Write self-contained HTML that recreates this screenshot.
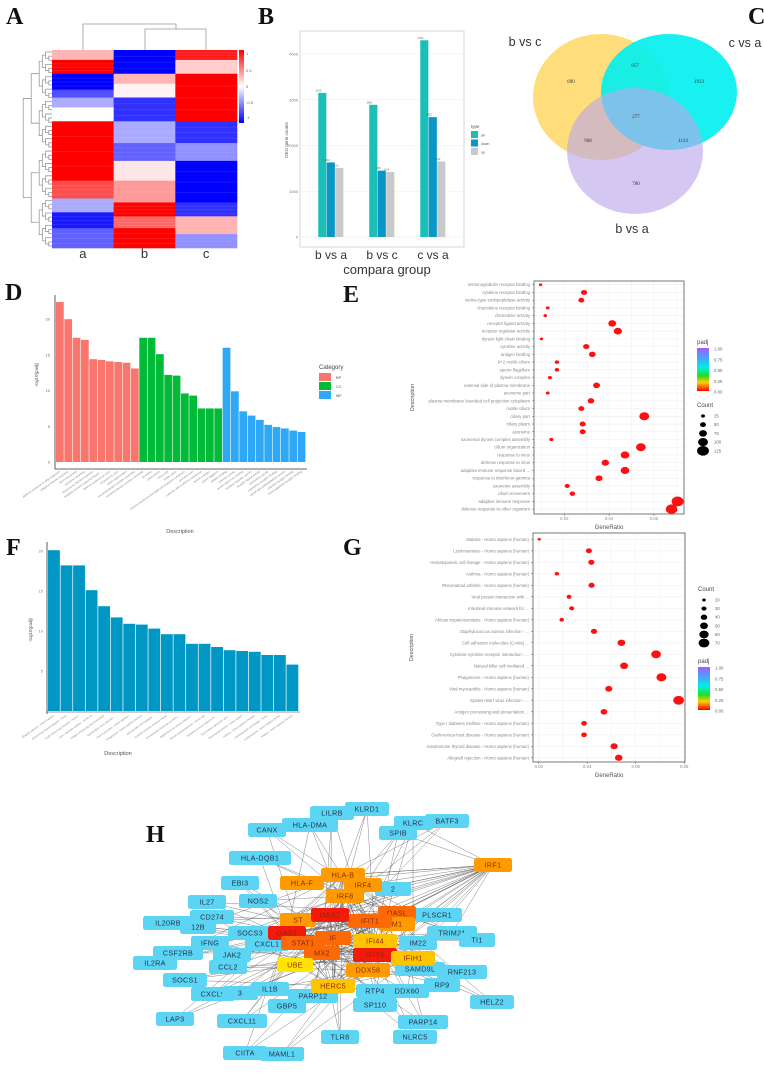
<!DOCTYPE html>
<html><head><meta charset="utf-8"><style>
html,body{margin:0;padding:0;background:#fff;width:764px;height:1074px;overflow:hidden}
svg{display:block;font-family:"Liberation Sans",sans-serif}
.lt{font-family:"Liberation Serif",serif;font-weight:bold;font-size:24px;fill:#111}
</style></head><body>
<svg id="fig" width="764" height="1074" viewBox="0 0 764 1074" xmlns="http://www.w3.org/2000/svg">
<text class="lt" x="6" y="24">A</text>
<text class="lt" x="258" y="24">B</text>
<text class="lt" x="748" y="24">C</text>
<text class="lt" x="5" y="300">D</text>
<text class="lt" x="343" y="302">E</text>
<text class="lt" x="6" y="555">F</text>
<text class="lt" x="343" y="555">G</text>
<text class="lt" x="146" y="842">H</text>
<g id="A"></g><g id="B"></g><g id="C"></g><g id="D"></g><g id="E"></g><g id="F"></g><g id="G"></g><g id="H"></g>
</svg>
<script>
// ---------- DATA ----------
const heatA = [[0,0.05,0.3],[0.05,0.12,1],[0.12,0.2,-1],[0.2,0.24,-0.7],[0.24,0.29,-0.3],[0.29,0.36,0],[0.36,0.66,1],[0.66,0.75,0.7],[0.75,0.82,-0.3],[0.82,0.9,-0.9],[0.9,1,-0.6]];
const heatB = [[0,0.12,-1],[0.12,0.17,0.3],[0.17,0.24,0.05],[0.24,0.36,-0.8],[0.36,0.47,-0.3],[0.47,0.56,-0.6],[0.56,0.66,0.1],[0.66,0.77,0.4],[0.77,0.84,1],[0.84,0.9,0.6],[0.9,1,1]];
const heatC = [[0,0.05,0.9],[0.05,0.12,0.2],[0.12,0.36,1],[0.36,0.47,-0.8],[0.47,0.56,-0.4],[0.56,0.77,-1],[0.77,0.84,-0.8],[0.84,0.93,0.3],[0.93,1,-0.4]];
const degGroups = ["b vs a","b vs c","c vs a"];
const degAll = [3150,2890,4300];
const degDown = [1630,1450,2620];
const degUp = [1510,1420,1650];
const degTicks = [0,1000,2000,3000,4000];
const vennLabels = ["690","957","1933","277","968","1124","780"];
const dBP = [22.4,20,17.4,17.1,14.4,14.3,14.1,14,13.9,13.1];
const dCC = [17.4,17.4,15.1,12.2,12.1,9.6,9.3,7.5,7.5,7.5];
const dMF = [16,9.9,7.1,6.5,5.9,5.2,4.9,4.7,4.4,4.2];
const dTicks = [0,5,10,15,20];
const eTerms = ["immunoglobulin receptor binding","cytokine receptor binding","serine-type endopeptidase activity","chemokine receptor binding","chemokine activity","receptor ligand activity","receptor regulator activity","dynein light chain binding","cytokine activity","antigen binding","9+2 motile cilium","sperm flagellum","dynein complex","external side of plasma membrane","axoneme part","plasma membrane bounded cell projection cytoplasm","motile cilium","ciliary part","ciliary plasm","axoneme","axonemal dynein complex assembly","cilium organization","response to virus","defense response to virus","adaptive immune response based ...","response to interferon-gamma","axoneme assembly","cilium movement","adaptive immune response","defense response to other organism"];
const eRatio = [0.0094,0.0288,0.0276,0.0126,0.0115,0.0414,0.0439,0.0098,0.0298,0.0325,0.0167,0.0167,0.0136,0.0344,0.0126,0.0319,0.0276,0.0557,0.0282,0.0282,0.0142,0.0542,0.0471,0.0383,0.0471,0.0355,0.0213,0.0236,0.0706,0.0679];
const eCount = [17,52,50,23,21,75,79,18,54,59,30,30,25,62,23,58,50,100,51,51,26,98,85,69,85,64,38,43,127,122];
const eTicks = [0.02,0.04,0.06];
const fValues = [20.1,18.2,18.2,15.1,13.1,11.7,10.9,10.8,10.3,9.6,9.6,8.4,8.4,8.0,7.6,7.5,7.4,7.0,7.0,5.8];
const fTicks = [5,10,15,20];
const gTerms = ["Malaria - Homo sapiens (human)","Leishmaniasis - Homo sapiens (human)","Hematopoietic cell lineage - Homo sapiens (human)","Asthma - Homo sapiens (human)","Rheumatoid arthritis - Homo sapiens (human)","Viral protein interaction with ...","Intestinal immune network for ...","African trypanosomiasis - Homo sapiens (human)","Staphylococcus aureus infection - ...","Cell adhesion molecules (CAMs) ...","Cytokine-cytokine receptor interaction - ...","Natural killer cell mediated ...","Phagosome - Homo sapiens (human)","Viral myocarditis - Homo sapiens (human)","Epstein-Barr virus infection - ...","Antigen processing and presentation ...","Type I diabetes mellitus - Homo sapiens (human)","Graft-versus-host disease - Homo sapiens (human)","Autoimmune thyroid disease - Homo sapiens (human)","Allograft rejection - Homo sapiens (human)"];
const gRatio = [0.0202,0.0407,0.0417,0.0275,0.0418,0.0325,0.0336,0.0295,0.0428,0.0541,0.0684,0.0552,0.0706,0.0489,0.0777,0.0469,0.0387,0.0387,0.0511,0.0530];
const gCount = [18,37,38,25,38,29,30,27,39,49,62,50,64,44,70,42,35,35,46,48];
const gTicks = [0.02,0.04,0.06,0.08];

// ---------- helpers ----------
const NS="http://www.w3.org/2000/svg";
function mk(parent,tag,attrs,txt){const e=document.createElementNS(NS,tag);for(const k in attrs)e.setAttribute(k,attrs[k]);if(txt!==undefined)e.textContent=txt;parent.appendChild(e);return e;}
function T(p,x,y,s,size,fill,anchor,extra){const a={x:x,y:y,'font-size':size,fill:fill||'#444','text-anchor':anchor||'start'};if(extra)for(const k in extra)a[k]=extra[k];return mk(p,'text',a,s);}
function hcol(v){const t=Math.abs(v);if(v>=0){const g=Math.round(255*(1-t));return `rgb(255,${g},${g})`;}const g=Math.round(255*(1-t));return `rgb(${Math.round(g*0.95)},${Math.round(g*0.95)},255)`;}

// ---------- A heatmap ----------
(function(){
const g=document.getElementById('A');
const x0=52,x1=237,y0=50,y1=248;const cw=(x1-x0)/3;
[heatA,heatB,heatC].forEach((col,ci)=>{col.forEach(s=>{
 const r=mk(g,'rect',{x:x0+ci*cw,y:y0+s[0]*(y1-y0),width:cw+0.3,height:(s[1]-s[0])*(y1-y0)+0.3,fill:hcol(s[2])});
 
 
 for(let k=1;k<4;k++){const yy=y0+(s[0]+(s[1]-s[0])*k/4)*(y1-y0);mk(g,'rect',{x:x0+ci*cw,y:yy,width:cw,height:0.8,fill:hcol(s[2]*0.8),opacity:0.6});}
});});
['a','b','c'].forEach((l,i)=>{const t=T(g,x0+cw*i+cw/2,258,l,13,'#333','middle');});
const st={stroke:'#999','stroke-width':0.8,fill:'none'};
mk(g,'path',Object.assign({d:`M145 50V29H206V50M176 29V24M83 50V24H176`},st));
const n=48;const leafY=i=>y0+2+i*(y1-y0-4)/(n-1);
function tree(a,b,depth){if(b-a<=1){return {y:leafY(a),x:52};}
 const m=Math.floor((a+b)/2);const L=tree(a,m,depth+1),R=tree(m,b,depth+1);const x=Math.min(L.x,R.x)-(depth<2?8:3.2);
 mk(g,'path',Object.assign({d:`M${L.x} ${L.y}H${x}V${R.y}H${R.x}`},st));return {x:x,y:(L.y+R.y)/2};}
tree(0,n,0);
const defs=mk(g,'defs',{});const lg=mk(defs,'linearGradient',{id:'hmg',x1:0,y1:0,x2:0,y2:1});
mk(lg,'stop',{offset:0,'stop-color':'#ff0000'});mk(lg,'stop',{offset:0.5,'stop-color':'#ffffff'});mk(lg,'stop',{offset:1,'stop-color':'#0000ff'});
const cb=mk(g,'rect',{x:239,y:50,width:5,height:73,fill:'url(#hmg)'});

[['1',55],['0.5',72],['0',88],['-0.5',104],['-1',119]].forEach(a=>T(g,246,a[1],a[0],4,'#666'));
})();

// ---------- B bar chart ----------
(function(){
const g=document.getElementById('B');
const px0=300,px1=464,py0=31,py1=247;const y=v=>237-v*(183/4000);
mk(g,'rect',{x:px0,y:py0,width:px1-px0,height:py1-py0,fill:'#fff',stroke:'#bbb','stroke-width':0.6});
degTicks.forEach(t=>{mk(g,'line',{x1:px0,x2:px1,y1:y(t),y2:y(t),stroke:'#eee','stroke-width':0.6});const l=T(g,298,y(t)+1.5,String(t),4,'#777','end');});
const cx=[331,382,433];const bw=8.5;const cols=['#1BBFB8','#0B97C6','#C9C9C9'];
degGroups.forEach((gr,i)=>{[degAll[i],degDown[i],degUp[i]].forEach((v,j)=>{
 const b=mk(g,'rect',{x:cx[i]+(j-1.5)*bw,y:y(v),width:bw-0.4,height:237-y(v),fill:cols[j]});
 
 T(g,cx[i]+(j-1)*bw-bw/2+0.2,y(v)-1.5,String(v),2.5,'#666','middle');});
 const l=T(g,cx[i],259,gr,12,'#333','middle');});
const xt=T(g,387,274,'compara group',13,'#333','middle');
const yt=T(g,288,140,'DEG gene counts',4.5,'#555','middle',{transform:'rotate(-90 288 140)'});
T(g,471,128,'type',4.5,'#555');
['all','down','up'].forEach((k,j)=>{const r=mk(g,'rect',{x:471,y:131+j*8.5,width:7,height:7,fill:cols[j]});T(g,481,136.5+j*8.5,k,3.5,'#555');});
})();

// ---------- C venn ----------
(function(){
const g=document.getElementById('C');
const e1=mk(g,'ellipse',{cx:601,cy:97,rx:68,ry:63,fill:'#FFD24D',opacity:0.75});
const e2=mk(g,'ellipse',{cx:669,cy:92,rx:68,ry:58,fill:'#00F0F0',opacity:0.9});
const e3=mk(g,'ellipse',{cx:635,cy:151,rx:68,ry:63,fill:'#B9A6EC',opacity:0.62});
T(g,525,46,'b vs c',12.5,'#333','middle');T(g,745,47,'c vs a',12.5,'#333','middle');T(g,632,233,'b vs a',12.5,'#333','middle');
const pos=[[571,83],[635,67],[699,83],[636,118],[588,142],[683,142],[636,185]];
vennLabels.forEach((v,i)=>T(g,pos[i][0],pos[i][1],v,5,'#333','middle',{'font-family':'Liberation Serif'}));
})();

// ---------- D GO bar ----------
(function(){
const g=document.getElementById('D');
const ax=55,y=v=>462-v*(35.7/5);const bw=250/30;
mk(g,'line',{x1:ax,x2:ax,y1:295,y2:469,stroke:'#333','stroke-width':0.8});
mk(g,'line',{x1:ax,x2:307,y1:469,y2:469,stroke:'#333','stroke-width':0.8});
dTicks.forEach(t=>{T(g,50,y(t)+1.5,String(t),4,'#666','end');});
const all=dBP.concat(dCC,dMF);const cols=['#F8766D','#00BA38','#2FA9F5'];
all.forEach((v,i)=>{const c=cols[Math.floor(i/10)];const b=mk(g,'rect',{x:56+i*bw,y:y(v),width:bw-0.6,height:462-y(v),fill:c});
 
 const lab=i<10?eTerms[29-i]:(i<20?eTerms[20-(i-10)]:eTerms[9-(i-20)]);
 const tx=56+i*bw+bw/2,ty=472;T(g,tx,ty,lab,2.8,'#888','end',{transform:`rotate(-35 ${tx} ${ty})`});});
const yt=T(g,38,375,'-log10(padj)',4.5,'#555','middle',{transform:'rotate(-90 38 375)'});
T(g,180,533,'Description',5.5,'#555','middle');
T(g,319,369,'Category',6,'#444');
['BP','CC','MF'].forEach((k,j)=>{const r=mk(g,'rect',{x:319,y:373+j*9,width:12,height:8,fill:cols[j]});T(g,336,379+j*9,k,4,'#555');});
})();

// ---------- dot plot helper ----------
function dotPlot(g,terms,ratios,counts,ticks,o){
 mk(g,'rect',{x:o.x0,y:o.y0,width:o.x1-o.x0,height:o.y1-o.y0,fill:'#fff'});
 const xs=v=>o.xref+(v-0.02)*o.k;
 for(let v=ticks[0]-0.01;v<=ticks[ticks.length-1]+0.011;v+=0.01){const xx=xs(v);if(xx>o.x0&&xx<o.x1)mk(g,'line',{x1:xx,x2:xx,y1:o.y0,y2:o.y1,stroke:'#efefef','stroke-width':0.6});}
 terms.forEach((t,i)=>{const yy=o.ry0+i*o.dy;mk(g,'line',{x1:o.x0,x2:o.x1,y1:yy,y2:yy,stroke:'#efefef','stroke-width':0.6});
  const l=T(g,o.x0-4,yy+1.5,t,4.3,'#888','end');
  mk(g,'line',{x1:o.x0-2,x2:o.x0,y1:yy,y2:yy,stroke:'#666','stroke-width':0.5});
  const c=mk(g,'ellipse',{cx:xs(ratios[i]),cy:yy,rx:o.r(counts[i])*1.1,ry:o.r(counts[i])*0.9,fill:'#FF1010'});
  });
 ticks.forEach(t=>{const xx=xs(t);T(g,xx,o.y1+6,t.toFixed(2),4.3,'#888','middle');mk(g,'line',{x1:xx,x2:xx,y1:o.y1,y2:o.y1+2,stroke:'#666','stroke-width':0.5});});
 mk(g,'rect',{x:o.x0,y:o.y0,width:o.x1-o.x0,height:o.y1-o.y0,fill:'none',stroke:'#555','stroke-width':0.8});
 const xt=T(g,(o.x0+o.x1)/2,o.y1+15,'GeneRatio',6,'#555','middle');
 const yt=T(g,o.x0-120,(o.y0+o.y1)/2,'Description',5.5,'#555','middle',{transform:`rotate(-90 ${o.x0-120} ${(o.y0+o.y1)/2})`});
}
function padjBar(g,x,y,h,id){const defs=mk(g,'defs',{});const lg=mk(defs,'linearGradient',{id:id,x1:0,y1:0,x2:0,y2:1});
 [['0','#A35CFF'],['0.25','#3FA9FF'],['0.45','#00F0E0'],['0.65','#22DD22'],['0.8','#FFD000'],['1','#FF0000']].forEach(s=>mk(lg,'stop',{offset:s[0],'stop-color':s[1]}));
 T(g,x,y-4,'padj',6,'#444');const r=mk(g,'rect',{x:x,y:y,width:12,height:h,fill:`url(#${id})`});
 ['1.00','0.75','0.50','0.25','0.00'].forEach((t,i)=>T(g,x+17,y+2.5+i*h/4,t,4.3,'#666'));}
function countLeg(g,x,y,vals,rf,dy){T(g,x,y,'Count',6,'#444');vals.forEach((v,i)=>{const yy=y+9+i*dy;const c=mk(g,'ellipse',{cx:x+6,cy:yy,rx:rf(v)*1.1,ry:rf(v)*0.9,fill:'#000'});T(g,x+17,yy+1.5,String(v),4.3,'#666');});}

// ---------- E ----------
(function(){const g=document.getElementById('E');const rf=c=>0.036*c+0.9;
 dotPlot(g,eTerms,eRatio,eCount,eTicks,{x0:534,x1:684,y0:281,y1:514,ry0:284.7,dy:7.74,xref:564.3,k:44.8/0.02,r:rf});
 padjBar(g,697,348,43,'pg1');countLeg(g,697,407,[25,50,75,100,125],rf,8.7);})();

// ---------- F ----------
(function(){
const g=document.getElementById('F');const y=v=>711-v*8;const bw=251/20;
mk(g,'line',{x1:47,x2:47,y1:542,y2:714,stroke:'#333','stroke-width':0.8});
fTicks.forEach(t=>T(g,43,y(t)+1.5,String(t),4,'#777','end'));
fValues.forEach((v,i)=>{const b=mk(g,'rect',{x:48+i*bw,y:y(v),width:bw-0.7,height:711-y(v),fill:'#0097C4'});
 const tx=48+i*bw+bw/2,ty=716;T(g,tx,ty,gTerms[19-i].slice(0,34),2.6,'#888','end',{transform:`rotate(-35 ${tx} ${ty})`});});
mk(g,'line',{x1:47,x2:300,y1:712,y2:712,stroke:'#333','stroke-width':0.6});
const yt=T(g,32,630,'-log10(padj)',4.5,'#555','middle',{transform:'rotate(-90 32 630)'});
T(g,118,755,'Description',5.5,'#555','middle');
})();

// ---------- G ----------
(function(){const g=document.getElementById('G');const rf=c=>0.066*c+0.3;
 dotPlot(g,gTerms,gRatio,gCount,gTicks,{x0:533,x1:685,y0:533,y1:762,ry0:539.3,dy:11.5,xref:538.7,k:48.5/0.02,r:rf});
 countLeg(g,698,591,[20,30,40,50,60,70],rf,8.6);padjBar(g,698,667,43,'pg2');})();

// ---------- H network ----------
(function(){
const g=document.getElementById('H');
const B='#5BD5F3',O='#FF9A00',R='#F21B0B',OR='#FB6A06',Y='#FFE400',YO='#FFC400';
const nodes=[["LILRB",332,813,B],["KLRD1",367,809,B],["CANX",267,830,B],["HLA-DMA",310,825,B],["KLRC",413,823,B],["BATF3",447,821,B],["SPIB",398,833,B],["HLA-DQB1",260,858,B],["IRF1",493,865,O],["EBI3",240,883,B],["X2",393,889,B],["IL27",207,902,B],["NOS2",258,901,B],["CD274",212,917,B],["IL20RB",168,923,B],["12B",198,927,B],["SOCS3",250,933,B],["IFNG",210,943,B],["CXCL1",267,944,B],["CSF2RB",178,953,B],["JAK2",232,955,B],["IL2RA",155,963,B],["CCL2",228,967,B],["SOCS1",185,980,B],["CXCL9",213,994,B],["3",240,993,B],["IL1B",270,989,B],["GBP5",287,1006,B],["PARP12",313,996,B],["LAP3",175,1019,B],["CXCL11",242,1021,B],["CIITA",245,1053,B],["MAML1",282,1054,B],["TLR8",340,1037,B],["SP110",375,1005,B],["RTP4",375,991,B],["DDX60",407,991,B],["RP9",442,985,B],["HELZ2",492,1002,B],["PARP14",423,1022,B],["NLRC5",415,1037,B],["SAMD9L",420,969,B],["RNF213",462,972,B],["TRIM21",452,933,B],["TI1",477,940,B],["PLSCR1",437,915,B],["IM22",418,943,B],
["HLA-F",302,883,O],["HLA-B",343,875,O],["IRF4",363,885,O],["IRF8",345,896,O],["OASL",397,913,OR],["M1",397,924,O],["ST",298,920,O],["IFIT1",370,921,OR],["OAS2",330,915,R],["OAS1",287,933,R],["IF",333,938,OR],["STAT1",303,943,OR],["IFI44",375,941,YO],["IFIT3",375,955,R],["IFIH1",413,958,YO],["MX2",322,953,OR],["UBE",295,965,Y],["DDX58",368,970,O],["HERC5",333,986,YO]];
const idx={};nodes.forEach((n,i)=>idx[n[0]]=i);
const central=["OAS2","IFIT1","STAT1","MX2","DDX58","IFI44","IFIT3","OAS1","IF","HERC5","IRF8","HLA-B","IFIH1","OASL"];
const edges=[];
central.forEach(c=>edges.push(["IRF1",c]));
["HLA-F","HLA-B","IRF4","IRF8","PLSCR1","TRIM21","SPIB","KLRC","X2","IM22","M1","ST","UBE"].forEach(c=>edges.push(["IRF1",c]));
nodes.forEach((n,i)=>{if(n[3]===B){for(let k=0;k<3;k++)edges.push([n[0],central[(i*5+k*3)%central.length]]);}});
central.forEach((c,i)=>{central.forEach((d,j)=>{if(j>i)edges.push([c,d]);});});
edges.forEach(e=>{const a=nodes[idx[e[0]]],b=nodes[idx[e[1]]];mk(g,'line',{x1:a[1],y1:a[2],x2:b[1],y2:b[2],stroke:'#555','stroke-width':0.45,opacity:0.8});});
nodes.forEach(n=>{const lab=n[0]==='X2'?'2':n[0];const w=Math.max(36,lab.length*6+14);
 const grp=mk(g,'g',{});
 
 
 mk(grp,'rect',{x:n[1]-w/2,y:n[2]-7,width:w,height:14,rx:2.5,fill:n[3]});
 T(grp,n[1],n[2]+2.6,lab,7.2,n[3]===B?'#23324a':'#8a2a00','middle',{'letter-spacing':'0.3'});});
})();
</script>
</body></html>
